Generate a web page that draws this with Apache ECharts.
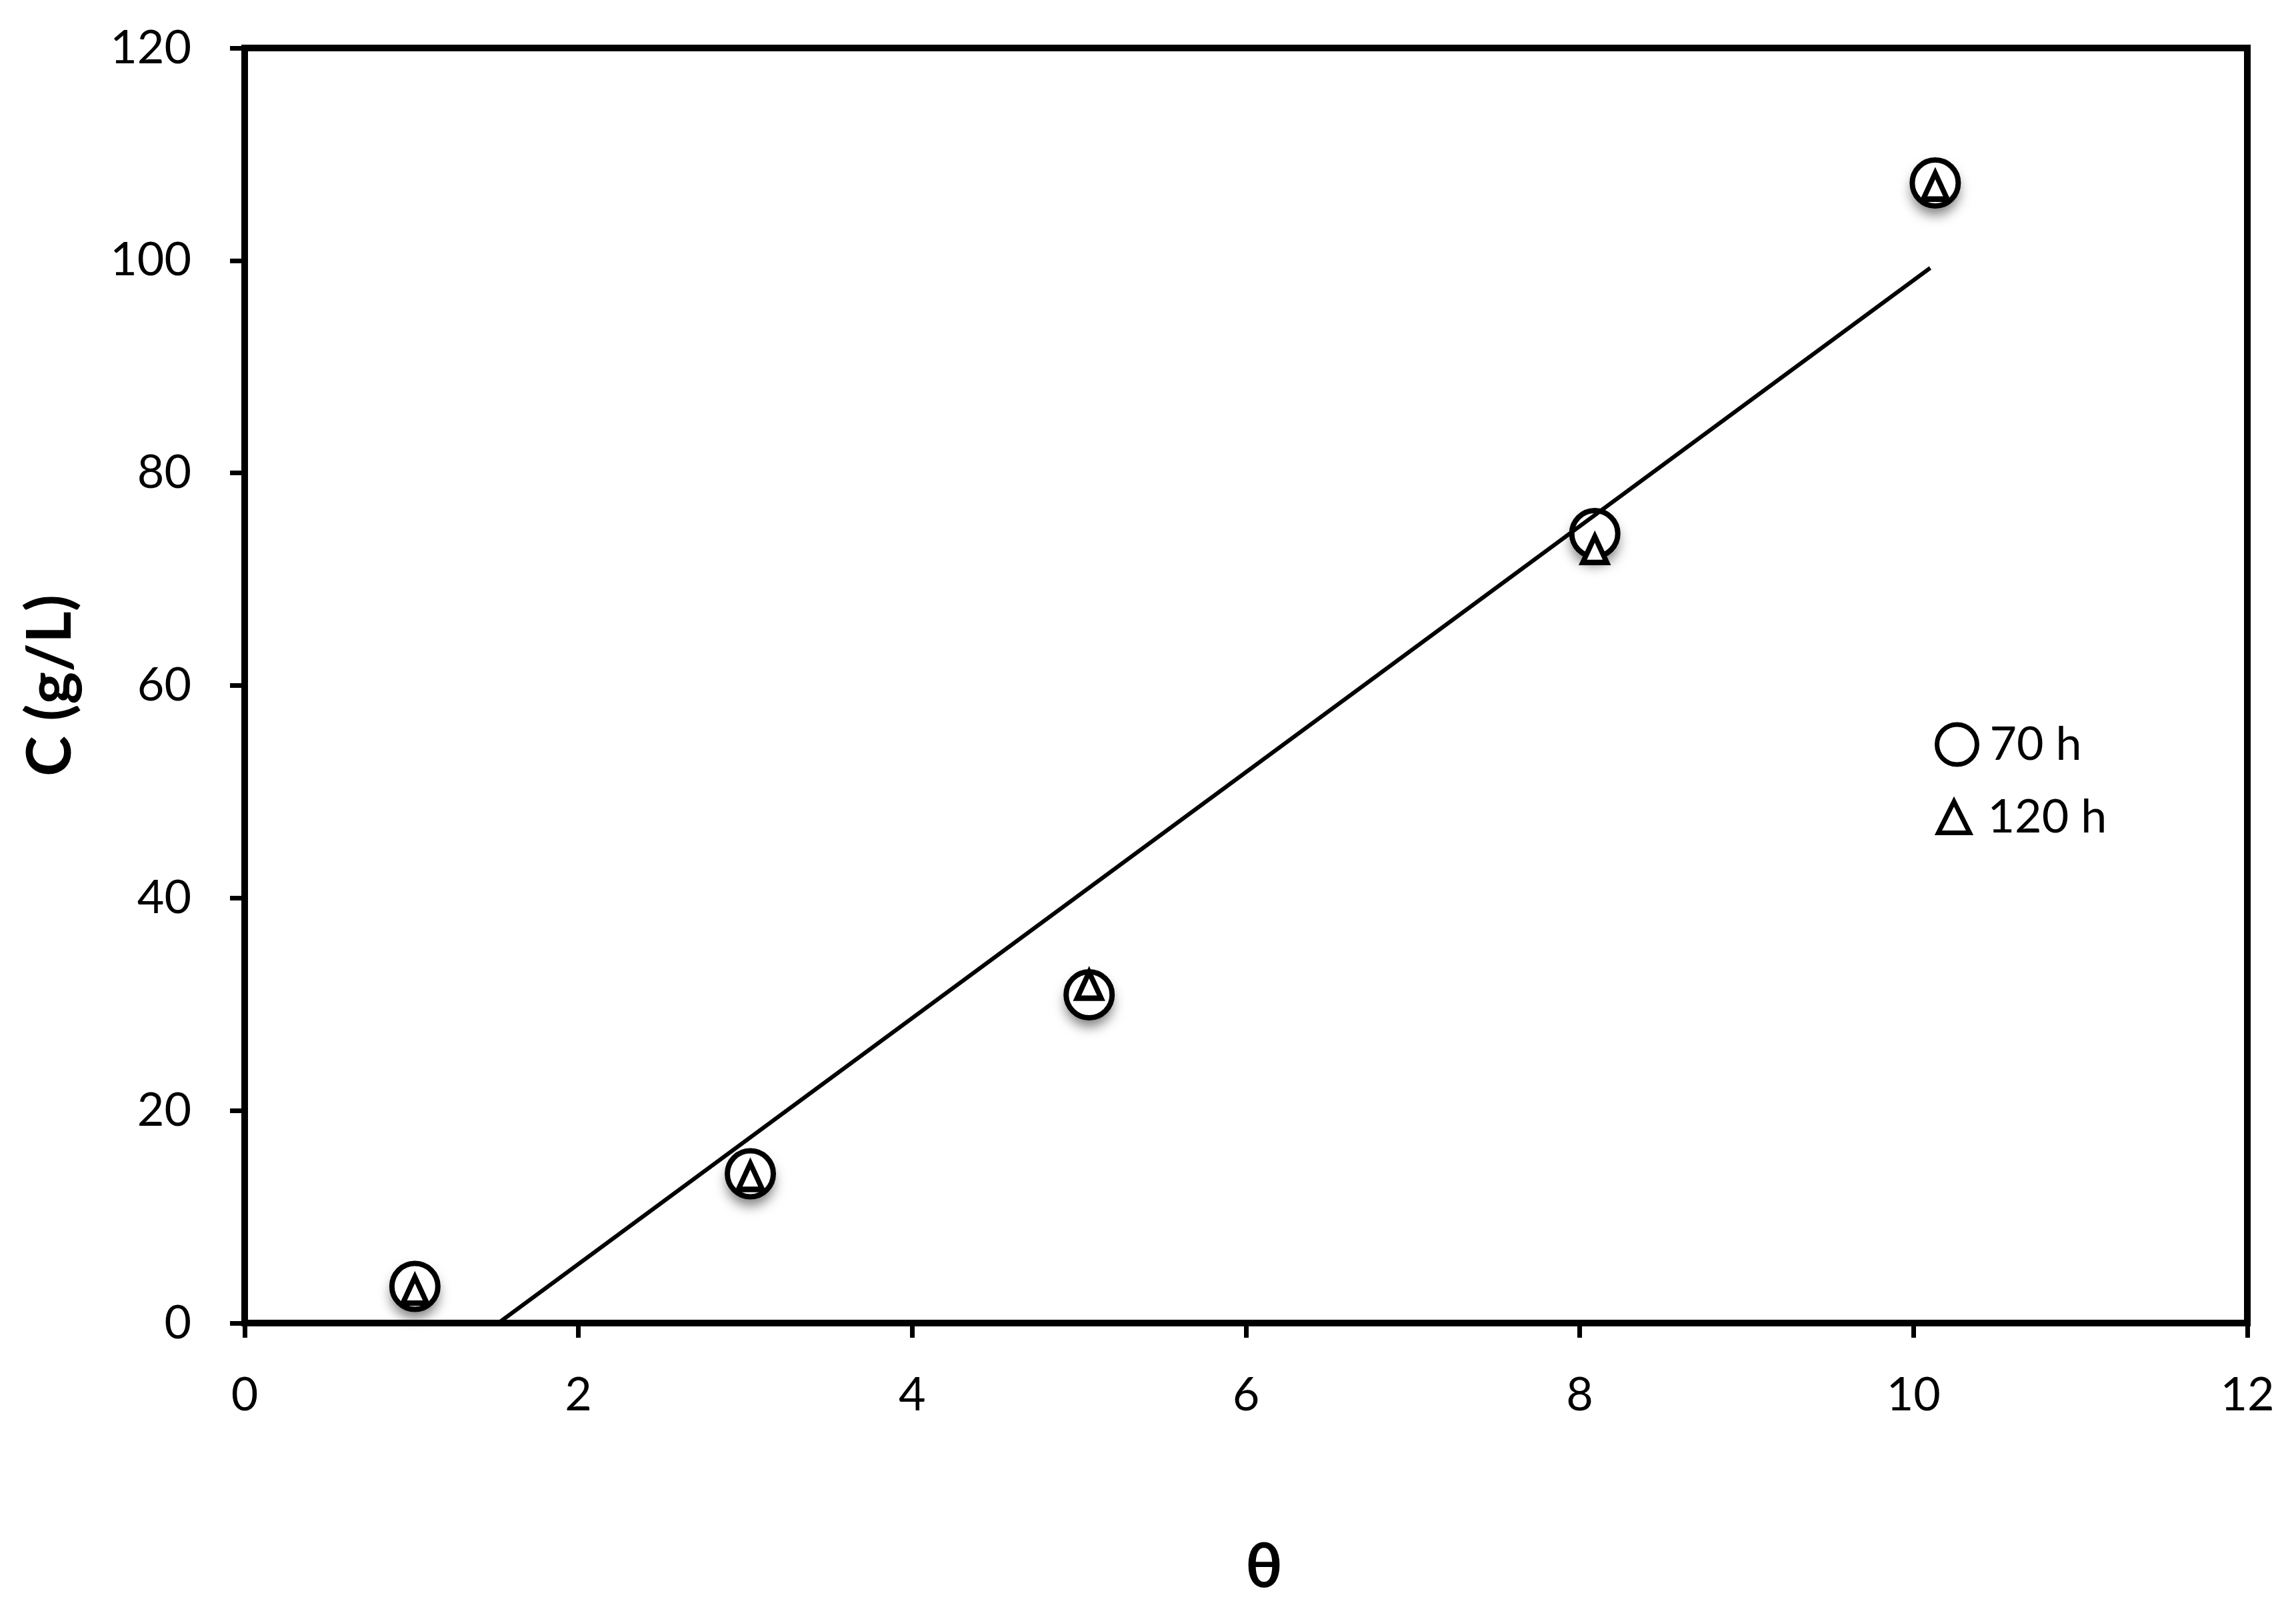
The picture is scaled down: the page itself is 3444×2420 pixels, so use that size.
<!DOCTYPE html>
<html>
<head>
<meta charset="utf-8">
<script src="https://cdn.jsdelivr.net/npm/echarts@6/dist/echarts.min.js"></script>
<style>
  html, body { margin: 0; padding: 0; background: #fff; }
  #chart { width: 3444px; height: 2420px; }
</style>
</head>
<body>
<div id="chart"></div>
<script>
// θ values and measured C (g/L)
const theta70 = [1.02, 3.03, 5.06, 8.09, 10.13]
const c70 = [3.45, 14.05, 30.9, 74.3, 107.3]
const theta120 = [1.02, 3.03, 5.06, 8.09, 10.13]
const c120 = [3.1, 13.8, 31.8, 72.8, 107.0]
// fitted line end points
const fitTheta = [1.52, 10.1]
const fitC = [0, 99.3]

const font = 'Lato'
const pairs = (xs, ys) => xs.map((x, i) => [x, ys[i]])

const chart = echarts.init(document.getElementById('chart'))

const legendIcon = { color: '#fff', borderColor: '#000', borderWidth: 7, shadowBlur: 0, shadowOffsetY: 0, opacity: 1 }

const option = {
  animation: false,
  backgroundColor: '#fff',
  grid: {
    left: 367,
    right: 73,
    top: 72,
    bottom: 435,
    show: true,
    borderColor: '#000',
    borderWidth: 10
  },
  legend: [
    {
      data: ['70 h'],
      left: 2897,
      top: 1077,
      itemWidth: 60,
      itemHeight: 60,
      textStyle: { fontFamily: font, fontSize: 70, color: '#000', padding: [0, 0, 0, 14] },
      itemStyle: legendIcon
    },
    {
      data: ['120 h'],
      left: 2899,
      top: 1186,
      itemWidth: 47,
      itemHeight: 47,
      textStyle: { fontFamily: font, fontSize: 70, color: '#000', padding: [0, 0, 0, 22] },
      itemStyle: legendIcon
    }
  ],
  xAxis: {
    type: 'value',
    min: 0,
    max: 12,
    interval: 2,
    name: 'θ',
    nameLocation: 'middle',
    nameGap: 320,
    nameTextStyle: { fontFamily: font, fontSize: 92, fontWeight: 'bold', color: '#000', padding: [0, 0, 0, 54] },
    axisLine: { lineStyle: { color: '#000', width: 10 } },
    axisTick: { inside: false, length: 22, lineStyle: { color: '#000', width: 7 } },
    axisLabel: { margin: 73, fontFamily: font, fontSize: 70, color: '#000' },
    splitLine: { show: false }
  },
  yAxis: {
    type: 'value',
    min: 0,
    max: 120,
    interval: 20,
    name: 'C (g/L)',
    nameLocation: 'middle',
    nameGap: 245,
    nameTextStyle: { fontFamily: font, fontSize: 92, fontWeight: 'bold', color: '#000' },
    axisLine: { lineStyle: { color: '#000', width: 10 } },
    axisTick: { inside: false, length: 22, lineStyle: { color: '#000', width: 7 } },
    axisLabel: { margin: 80, fontFamily: font, fontSize: 70, color: '#000' },
    splitLine: { show: false }
  },
  series: [
    {
      // 只画圆下方的灰色阴影
      name: 'shadow',
      type: 'scatter',
      symbol: 'circle',
      symbolSize: 72,
      data: pairs(theta70, c70),
      silent: true,
      itemStyle: {
        color: '#fff', opacity: 1,
        shadowColor: 'rgba(0,0,0,0.5)', shadowBlur: 18, shadowOffsetY: 12
      },
      z: 1
    },
    {
      name: '70 h',
      type: 'scatter',
      symbol: 'circle',
      symbolSize: 69,
      data: pairs(theta70, c70),
      itemStyle: { color: '#fff', borderColor: '#000', borderWidth: 8, opacity: 1 },
      z: 2
    },
    {
      name: '120 h',
      type: 'scatter',
      symbol: 'triangle',
      symbolSize: [36, 39],
      data: pairs(theta120, c120),
      itemStyle: { color: '#fff', borderColor: '#000', borderWidth: 8, opacity: 1 },
      z: 3
    },
    {
      name: 'fit',
      type: 'line',
      data: pairs(fitTheta, fitC),
      showSymbol: false,
      lineStyle: { color: '#000', width: 6 },
      z: 4
    }
  ]
}

chart.setOption(option)

window.addEventListener('resize', () => { chart.resize() })
</script>
</body>
</html>
